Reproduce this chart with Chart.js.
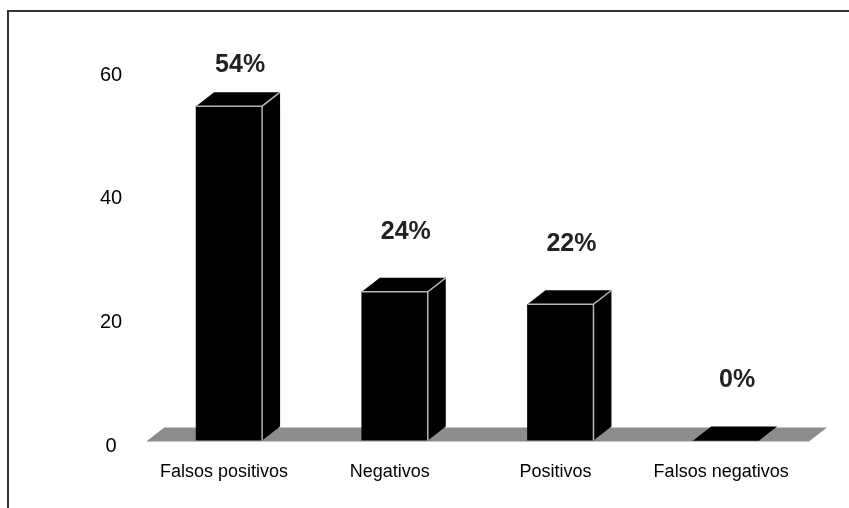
<!DOCTYPE html>
<html lang="es">
<head>
    <meta charset="UTF-8">
    <title>Resultados</title>
    <script src="https://cdn.jsdelivr.net/npm/chart.js"></script>
    <style>
        body { margin: 0; background: #fff; }
    </style>
</head>
<body>
    <canvas id="resultsChart" width="849" height="508"></canvas>

    <script>
        // Data
        var categories = ['Falsos positivos', 'Negativos', 'Positivos', 'Falsos negativos'];
        var percentValues = [54, 24, 22, 0];
        var yTicks = [0, 20, 40, 60];

        // 3D look: how far the back face is shifted
        var DEPTH_X = 18;
        var DEPTH_Y = 14;

        // Frame lines (top and left) plus the grey floor under the bars
        var floorPlugin = {
            id: 'floor',
            beforeDraw: function(chart) {
                var ctx = chart.ctx;
                ctx.save();
                ctx.strokeStyle = '#333';
                ctx.lineWidth = 2;
                ctx.beginPath();
                ctx.moveTo(8, 508);
                ctx.lineTo(8, 11);
                ctx.lineTo(849, 11);
                ctx.stroke();
                ctx.restore();
            },
            beforeDatasetsDraw: function(chart) {
                var ctx = chart.ctx;
                var a = chart.chartArea;
                var y0 = chart.scales.y.getPixelForValue(0);
                ctx.save();
                ctx.fillStyle = '#8c8c8c';
                ctx.beginPath();
                ctx.moveTo(a.left, y0 + 1);
                ctx.lineTo(a.right, y0 + 1);
                ctx.lineTo(a.right + DEPTH_X, y0 + 1 - DEPTH_Y);
                ctx.lineTo(a.left + DEPTH_X, y0 + 1 - DEPTH_Y);
                ctx.closePath();
                ctx.fill();
                ctx.restore();
            }
        };

        // Top and side faces of each bar, then the percent labels
        var boxPlugin = {
            id: 'box3d',
            afterDatasetsDraw: function(chart) {
                var ctx = chart.ctx;
                var meta = chart.getDatasetMeta(0);
                ctx.save();
                meta.data.forEach(function(bar, i) {
                    var left = bar.x - bar.width / 2;
                    var right = bar.x + bar.width / 2;
                    var top = bar.y;
                    var base = bar.base;

                    ctx.fillStyle = '#000';
                    ctx.strokeStyle = '#b5b5b5';
                    ctx.lineWidth = 1.5;

                    // side face
                    if (base - top > 0) {
                        ctx.beginPath();
                        ctx.moveTo(right, top);
                        ctx.lineTo(right + DEPTH_X, top - DEPTH_Y);
                        ctx.lineTo(right + DEPTH_X, base - DEPTH_Y);
                        ctx.lineTo(right, base);
                        ctx.closePath();
                        ctx.fill();
                        ctx.beginPath();
                        ctx.moveTo(right, base);
                        ctx.lineTo(right, top);
                        ctx.stroke();
                    }

                    // top face
                    ctx.beginPath();
                    ctx.moveTo(left, top);
                    ctx.lineTo(right, top);
                    ctx.lineTo(right + DEPTH_X, top - DEPTH_Y);
                    ctx.lineTo(left + DEPTH_X, top - DEPTH_Y);
                    ctx.closePath();
                    ctx.fill();
                    if (base - top > 0) {
                        ctx.beginPath();
                        ctx.moveTo(left, top);
                        ctx.lineTo(right, top);
                        ctx.lineTo(right + DEPTH_X, top - DEPTH_Y);
                        ctx.stroke();
                    }

                    // label
                    var labelY = Math.max(65, top - 60);
                    ctx.fillStyle = '#222';
                    ctx.font = 'bold 25px "Liberation Sans", Arial, sans-serif';
                    ctx.textAlign = 'center';
                    ctx.textBaseline = 'middle';
                    ctx.fillText(percentValues[i] + '%', bar.x + 11, labelY);
                });
                ctx.restore();
            }
        };

        var ctx = document.getElementById('resultsChart').getContext('2d');
        var myChart = new Chart(ctx, {
            type: 'bar',
            data: {
                labels: categories,
                datasets: [{
                    data: percentValues,
                    backgroundColor: '#000',
                    borderWidth: 0,
                    barThickness: 66
                }]
            },
            options: {
                responsive: false,
                animation: false,
                layout: {
                    padding: { top: 69, right: 40, bottom: 4, left: 76 }
                },
                plugins: {
                    legend: { display: false },
                    tooltip: { enabled: false }
                },
                scales: {
                    x: {
                        grid: { display: false, drawTicks: false },
                        border: { display: false },
                        ticks: {
                            color: '#000',
                            padding: 21,
                            labelOffset: -5,
                            font: { family: '"Liberation Sans", Arial, sans-serif', size: 18 }
                        }
                    },
                    y: {
                        min: 0,
                        max: 60,
                        afterBuildTicks: function(axis) {
                            axis.ticks = yTicks.map(function(v) { return { value: v }; });
                        },
                        grid: { display: false, drawTicks: false },
                        border: { display: false },
                        ticks: {
                            color: '#000',
                            padding: 24,
                            crossAlign: 'center',
                            labelOffset: 6,
                            font: { family: '"Liberation Sans", Arial, sans-serif', size: 20 }
                        }
                    }
                }
            },
            plugins: [floorPlugin, boxPlugin]
        });
    </script>
</body>
</html>
